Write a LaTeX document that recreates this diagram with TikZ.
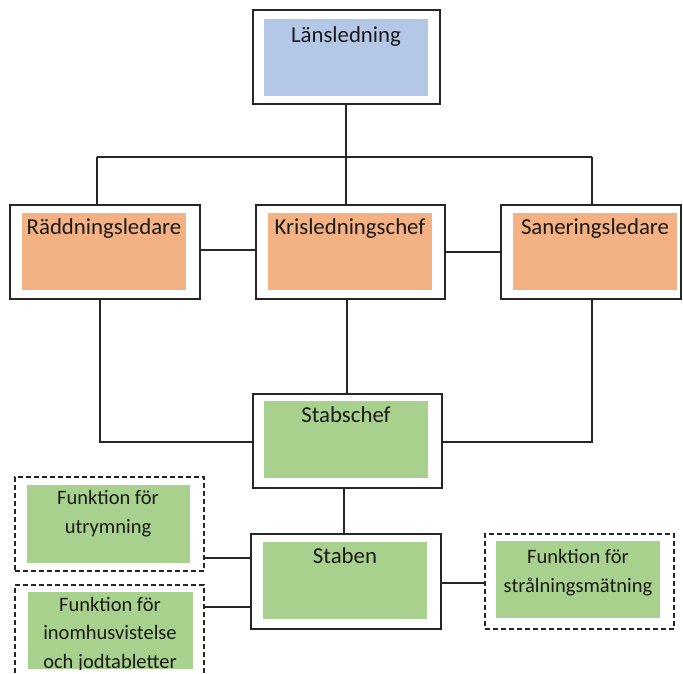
\documentclass[tikz,border=0pt]{standalone}
\usepackage{fontspec}
\setmainfont{Carlito}
\usetikzlibrary{fit}
\definecolor{lblue}{HTML}{B4C7E7}
\definecolor{lorange}{HTML}{F4B183}
\definecolor{lgreen}{HTML}{A9D18E}
\definecolor{txt}{HTML}{1A1A1A}
\tikzset{
  outerbox/.style={draw=black!85, line width=1.4pt, fill=white, inner sep=0pt},
  dashbox/.style={draw=black!85, line width=1.1pt, dash pattern=on 5pt off 3pt, fill=white, inner sep=0pt},
  innerbox/.style={draw=none, fill=#1, inner sep=0pt},
  mainlbl/.style={font=\fontsize{22.8}{27}\selectfont, text=txt, anchor=base, inner sep=0pt},
  funlbl/.style={font=\fontsize{20.5}{28.5}\selectfont, text=txt, anchor=base, inner sep=0pt, align=center},
  conn/.style={draw=black!85, line width=1.4pt}
}
\begin{document}
\begin{tikzpicture}[x=1pt,y=-1pt]
\useasboundingbox (0,0) rectangle (683,674);
\begin{scope}
\clip (0,0) rectangle (683,674);
% junction points
\coordinate (top) at (346,157);
\coordinate (lt) at (97,157);
\coordinate (rt) at (592,157);
% boxes
\node[outerbox, fit={(253,10) (440,104)}] (L) {};
\node[innerbox=lblue, fit={(264,19) (428,96)}] (Li) {};
\node[mainlbl] (Lt) at (346,43) {Länsledning};

\node[outerbox, fit={(10,205) (200,299)}] (R) {};
\node[innerbox=lorange, fit={(22,213) (186,290)}] (Ri) {};
\node[mainlbl] (Rt) at (104,234) {Räddningsledare};

\node[outerbox, fit={(256,205) (445,299)}] (K) {};
\node[innerbox=lorange, fit={(268,213) (432,290)}] (Ki) {};
\node[mainlbl] (Kt) at (350,234) {Krisledningschef};

\node[outerbox, fit={(501,205) (681,299)}] (S) {};
\node[innerbox=lorange, fit={(513,213) (677,290)}] (Si) {};
\node[mainlbl] (St) at (595,234) {Saneringsledare};

\node[outerbox, fit={(253,394) (442,488)}] (C) {};
\node[innerbox=lgreen, fit={(264,401) (428,478)}] (Ci) {};
\node[mainlbl] (Ct) at (346,422) {Stabschef};

\node[outerbox, fit={(251,534) (441,629)}] (B) {};
\node[innerbox=lgreen, fit={(263,542) (427,619)}] (Bi) {};
\node[mainlbl] (Bt) at (345,563) {Staben};

\node[dashbox, fit={(15,477) (204,571)}] (F1) {};
\node[innerbox=lgreen, fit={(27,485) (190,563)}] (F1i) {};
\node[funlbl] (F1t) at (108,533) {Funktion för\\utrymning};

\node[dashbox, fit={(15,585) (204,700)}] (F2) {};
\node[innerbox=lgreen, fit={(28,592) (193,669)}] (F2i) {};
\begin{scope}
\clip (F2i.north west) rectangle (F2i.south east);
\node[funlbl] (F2t) at (110,668) {Funktion för\\inomhusvistelse\\och jodtabletter};
\end{scope}

\node[dashbox, fit={(485,534) (674,629)}] (F3) {};
\node[innerbox=lgreen, fit={(496,541) (660,618)}] (F3i) {};
\node[funlbl] (F3t) at (578,592) {Funktion för\\strålningsmätning};

% lines
\draw[conn] (top |- L.south) -- (top);
\draw[conn] (lt) -- (rt);
\draw[conn] (lt) -- (lt |- R.north);
\draw[conn] (top) -- (top |- K.north);
\draw[conn] (rt) -- (rt |- S.north);
\draw[conn] (R.east |- 0,250) -- (K.west |- 0,250);
\draw[conn] (K.east |- 0,252) -- (S.west |- 0,252);
\draw[conn] ([xshift=-5pt]R.south) |- (C.west |- 0,442);
\draw[conn] (S.south -| rt) |- (C.east |- 0,442);
\draw[conn] (K.south -| 347,0) -- (C.north -| 347,0);
\draw[conn] (B.north -| 344,0) -- (C.south -| 344,0);
\draw[conn] (F1.east |- 0,558) -- (B.west |- 0,558);
\draw[conn] (F2.east |- 0,607) -- (B.west |- 0,607);
\draw[conn] (B.east |- 0,583) -- (F3.west |- 0,583);
\end{scope}
\end{tikzpicture}
\end{document}
